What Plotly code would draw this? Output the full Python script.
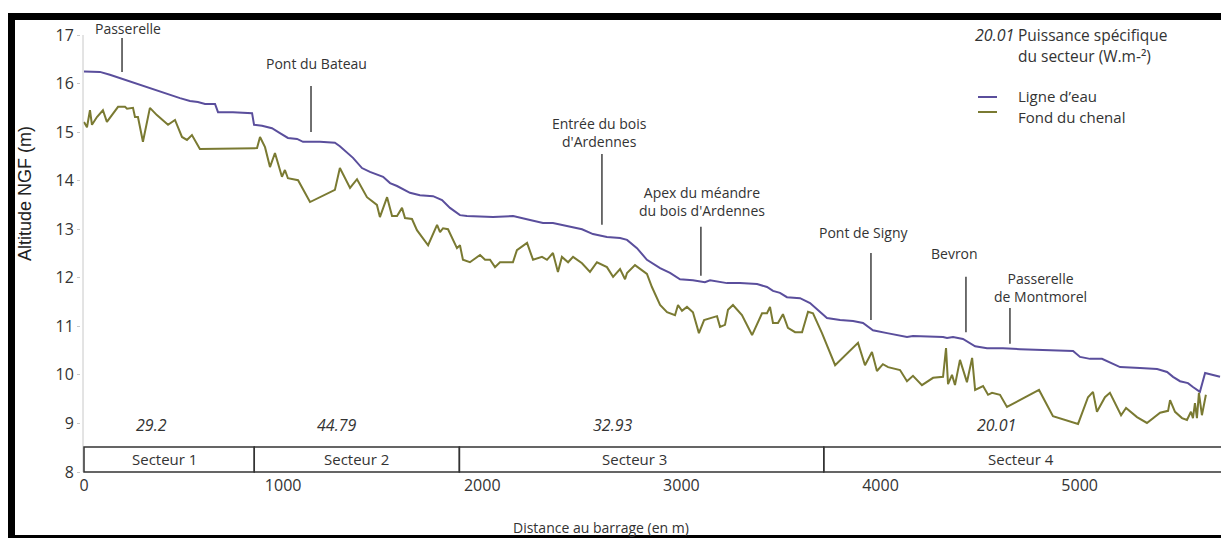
import plotly.graph_objects as go

# ---------------- data ----------------
dist_eau = [0, 80, 130, 196, 281, 331, 382, 432, 482, 532, 572, 608, 658, 673, 748, 844, 854, 894, 944, 984,
            1024, 1070, 1100, 1185, 1260, 1285, 1321, 1351, 1396, 1436, 1502, 1537, 1572, 1637, 1687, 1753, 1798, 1838, 1888, 1923,
            2054, 2155, 2240, 2305, 2355, 2425, 2501, 2556, 2626, 2692, 2727, 2777, 2827, 2893, 2943, 2993, 3058, 3118, 3144, 3229,
            3294, 3380, 3430, 3460, 3495, 3530, 3596, 3646, 3696, 3731, 3797, 3862, 3912, 3962, 4033, 4083, 4133, 4163, 4314, 4334,
            4364, 4414, 4450, 4475, 4535, 4615, 4700, 4967, 5002, 5052, 5112, 5162, 5203, 5303, 5389, 5439, 5469, 5504, 5544, 5569,
            5604, 5630, 5665, 5705]
alt_eau = [16.25, 16.24, 16.18, 16.09, 15.97, 15.91, 15.83, 15.76, 15.70, 15.64, 15.62, 15.58, 15.58, 15.41, 15.41, 15.39, 15.15, 15.13, 15.08, 14.98,
           14.88, 14.86, 14.80, 14.80, 14.78, 14.71, 14.57, 14.47, 14.26, 14.18, 14.08, 13.95, 13.89, 13.75, 13.70, 13.68, 13.60, 13.44, 13.29, 13.27,
           13.25, 13.27, 13.19, 13.13, 13.13, 13.07, 13.00, 12.90, 12.84, 12.82, 12.78, 12.61, 12.37, 12.20, 12.10, 11.97, 11.95, 11.91, 11.95, 11.89,
           11.89, 11.87, 11.81, 11.73, 11.69, 11.60, 11.58, 11.48, 11.30, 11.17, 11.13, 11.11, 11.07, 10.92, 10.86, 10.82, 10.78, 10.80, 10.78, 10.76,
           10.78, 10.74, 10.66, 10.59, 10.55, 10.55, 10.53, 10.49, 10.37, 10.33, 10.33, 10.24, 10.16, 10.14, 10.12, 10.06, 9.96, 9.87, 9.83, 9.75,
           9.65, 10.04, 10.00, 9.96]

dist_fond = [0, 15, 30, 40, 65, 95, 115, 171, 206, 216, 246, 256, 271, 296, 331, 366, 422, 457, 492, 517,
             542, 582, 869, 884, 909, 934, 959, 994, 1009, 1024, 1075, 1135, 1260, 1285, 1336, 1371, 1421, 1471, 1486, 1522,
             1547, 1572, 1597, 1612, 1647, 1672, 1728, 1773, 1788, 1803, 1828, 1873, 1888, 1903, 1938, 1989, 2014, 2039, 2064, 2089,
             2154, 2174, 2225, 2255, 2300, 2325, 2355, 2380, 2400, 2431, 2456, 2501, 2541, 2576, 2626, 2657, 2692, 2717, 2727, 2767,
             2827, 2852, 2893, 2928, 2968, 2983, 3003, 3028, 3058, 3088, 3114, 3179, 3194, 3219, 3234, 3259, 3304, 3355, 3405, 3430,
             3445, 3460, 3485, 3510, 3535, 3571, 3606, 3636, 3661, 3706, 3772, 3887, 3922, 3957, 3982, 4012, 4038, 4098, 4133, 4163,
             4208, 4264, 4314, 4329, 4339, 4359, 4374, 4399, 4434, 4460, 4475, 4515, 4540, 4560, 4600, 4635, 4796, 4866, 4992, 5042,
             5067, 5087, 5127, 5152, 5208, 5233, 5288, 5338, 5404, 5444, 5454, 5479, 5514, 5539, 5559, 5569, 5579, 5589, 5599, 5614,
             5634]
alt_fond = [15.21, 15.10, 15.45, 15.15, 15.31, 15.45, 15.21, 15.52, 15.52, 15.48, 15.50, 15.31, 15.31, 14.80, 15.50, 15.35, 15.15, 15.25, 14.90, 14.84,
            14.94, 14.65, 14.67, 14.90, 14.69, 14.28, 14.57, 14.08, 14.22, 14.05, 14.01, 13.56, 13.81, 14.26, 13.85, 14.03, 13.66, 13.50, 13.25, 13.66,
            13.27, 13.27, 13.44, 13.23, 13.21, 12.98, 12.67, 13.09, 12.94, 13.02, 13.00, 12.61, 12.67, 12.37, 12.32, 12.47, 12.37, 12.37, 12.22, 12.32,
            12.32, 12.57, 12.72, 12.37, 12.43, 12.37, 12.51, 12.12, 12.43, 12.32, 12.43, 12.30, 12.12, 12.32, 12.22, 12.02, 12.18, 11.97, 12.10, 12.26,
            12.08, 11.81, 11.44, 11.29, 11.23, 11.44, 11.32, 11.40, 11.29, 10.86, 11.13, 11.21, 10.99, 11.03, 11.34, 11.44, 11.23, 10.82, 11.27, 11.27,
            11.40, 11.07, 11.07, 11.25, 10.97, 10.88, 10.88, 11.30, 11.27, 10.86, 10.20, 10.66, 10.20, 10.47, 10.08, 10.22, 10.16, 10.10, 9.87, 9.98,
            9.79, 9.94, 9.96, 10.55, 9.81, 10.00, 9.79, 10.31, 9.85, 10.35, 9.69, 9.77, 9.59, 9.63, 9.59, 9.34, 9.69, 9.15, 8.99, 9.54,
            9.65, 9.24, 9.54, 9.63, 9.17, 9.32, 9.13, 9.01, 9.22, 9.26, 9.48, 9.24, 9.11, 9.07, 9.24, 9.11, 9.42, 9.11, 9.63, 9.17,
            9.59]

sector_names = ["Secteur 1", "Secteur 2", "Secteur 3", "Secteur 4"]
sector_bounds = [0, 855, 1885, 3715, 5720]
sector_power = [29.2, 44.79, 32.93, 20.01]

landmark_names = ["Passerelle", "Pont du Bateau", "Entrée du bois<br>d'Ardennes",
                  "Apex du méandre<br>du bois d'Ardennes", "Pont de Signy", "Bevron",
                  "Passerelle<br>de Montmorel"]
landmark_dist = [191, 1140, 2601, 3098, 3952, 4429, 4650]

x_ticks = [0, 1000, 2000, 3000, 4000, 5000]
y_ticks = [8, 9, 10, 11, 12, 13, 14, 15, 16, 17]

# ---------------- layout geometry / styles ----------------
OFF = 8                      # page offset of the figure (browser body margin)
W, H = 1229 - OFF, 541 - OFF
L, R, T, B = 81 - OFF, 4, 33 - OFF, 67
PW, PH = W - L - R, H - T - B


def pxx(p):
    """page pixel x -> paper x"""
    return (p - OFF - L) / PW


def pxy(p):
    """page pixel y -> paper y"""
    return (T + PH - (p - OFF)) / PH


x_lo = (81 - 84) / 0.19913
x_hi = (1225 - 84) / 0.19913
y_lo = 8 - 2 / 48.56
y_hi = 17 + 2 / 48.56


def vy(v):
    """data y -> paper y"""
    return (v - y_lo) / (y_hi - y_lo)


BLUE = "#5a4e9c"
OLIVE = "#7a7a32"
TXT = "#333333"
FONT = "Open Sans"

label_x = [221, 1170, 2591, 3103, 3917, 4369, 4801]
label_y = [17.14, 16.42, 15.00, 13.58, 12.94, 12.49, 11.81]
mark_top = [16.94, 15.95, 14.55, 13.05, 12.51, 12.02, 11.38]
mark_bot = [16.24, 15.00, 13.09, 12.04, 11.13, 10.88, 10.64]
sector_label_x = [402, 1366, 2767, 4705]
power_label_x = [341, 1270, 2656, 4580]

fig = go.Figure()
fig.add_trace(go.Scatter(x=dist_eau, y=alt_eau, mode="lines", name="Ligne d’eau",
                         line=dict(color=BLUE, width=2), showlegend=False))
fig.add_trace(go.Scatter(x=dist_fond, y=alt_fond, mode="lines", name="Fond du chenal",
                         line=dict(color=OLIVE, width=2), showlegend=False))

shapes = []
annotations = []

# y-axis line
shapes.append(dict(type="line", xref="x", yref="y", x0=-5, x1=-5, y0=8, y1=17,
                   line=dict(color="#c8c8c8", width=1)))

# sector boxes
box_top = 8.515
for i, name in enumerate(sector_names):
    shapes.append(dict(type="rect", xref="x", yref="y", x0=sector_bounds[i], x1=sector_bounds[i + 1],
                       y0=8, y1=box_top, line=dict(color="#333333", width=1.5)))
    annotations.append(dict(x=sector_label_x[i], y=vy((8 + box_top) / 2), xref="x", yref="paper", text=name,
                            showarrow=False, font=dict(family=FONT, size=15, color=TXT),
                            xanchor="center", yanchor="middle"))
    annotations.append(dict(x=power_label_x[i], y=vy(8.97), xref="x", yref="paper", text=f"<i>{sector_power[i]}</i>",
                            showarrow=False, font=dict(family=FONT, size=16, color=TXT),
                            xanchor="center", yanchor="middle"))

# landmarks
for i, name in enumerate(landmark_names):
    shapes.append(dict(type="line", xref="x", yref="y", x0=landmark_dist[i], x1=landmark_dist[i],
                       y0=mark_bot[i], y1=mark_top[i], line=dict(color="#404040", width=1.5)))
    annotations.append(dict(x=label_x[i], y=vy(label_y[i]), xref="x", yref="paper", text=name,
                            showarrow=False, font=dict(family=FONT, size=14, color=TXT),
                            xanchor="center", yanchor="middle", align="center"))

# legend (manual)
annotations.append(dict(x=pxx(994), y=pxy(35), xref="paper", yref="paper", text="<i>20.01</i>",
                        showarrow=False, font=dict(family=FONT, size=16, color=TXT),
                        xanchor="center", yanchor="middle"))
for ty, txt in [(35, "Puissance spécifique"), (56, "du secteur (W.m-²)")]:
    annotations.append(dict(x=pxx(1016), y=pxy(ty), xref="paper", yref="paper", text=txt,
                            showarrow=False, font=dict(family=FONT, size=15.5, color=TXT),
                            xanchor="left", yanchor="middle"))
for ty, ly, col, txt in [(96, 97, BLUE, "Ligne d’eau"), (117, 112, OLIVE, "Fond du chenal")]:
    shapes.append(dict(type="line", xref="paper", yref="paper", x0=pxx(978), x1=pxx(997),
                       y0=pxy(ly), y1=pxy(ly), line=dict(color=col, width=2)))
    annotations.append(dict(x=pxx(1016), y=pxy(ty), xref="paper", yref="paper", text=txt,
                            showarrow=False, font=dict(family=FONT, size=15, color=TXT),
                            xanchor="left", yanchor="middle"))

# axis titles
annotations.append(dict(x=pxx(25), y=pxy(194), xref="paper", yref="paper", text="Altitude NGF (m)",
                        textangle=-90, showarrow=False,
                        font=dict(family="Liberation Sans, Arial", size=18, color="#222222"),
                        xanchor="center", yanchor="middle"))
annotations.append(dict(x=pxx(601), y=pxy(527), xref="paper", yref="paper", text="Distance au barrage (en m)",
                        showarrow=False, font=dict(family=FONT, size=14, color=TXT),
                        xanchor="center", yanchor="middle"))

# black frame (page pixels)
for (a, b, c, d) in [(8, 13, 1229, 20), (8, 13, 15, 538), (1224, 13, 1229, 538), (8, 535, 1229, 538)]:
    shapes.append(dict(type="rect", xref="paper", yref="paper", x0=pxx(a), x1=pxx(c), y0=pxy(d), y1=pxy(b),
                       fillcolor="black", line=dict(width=0), layer="above"))

fig.update_layout(
    width=W, height=H,
    margin=dict(l=L, r=R, t=T, b=B, pad=0),
    paper_bgcolor="white", plot_bgcolor="white",
    showlegend=False,
    shapes=shapes, annotations=annotations,
    xaxis=dict(range=[x_lo, x_hi], tickvals=x_ticks, ticktext=[str(v) for v in x_ticks],
               showgrid=False, zeroline=False, showline=False, ticks="",
               tickfont=dict(family=FONT, size=16, color="#333333")),
    yaxis=dict(range=[y_lo, y_hi], tickvals=y_ticks, ticktext=[str(v) for v in y_ticks],
               showgrid=False, zeroline=False, showline=False, ticks="outside", ticklen=3,
               tickcolor="#c8c8c8", tickfont=dict(family=FONT, size=16, color="#333333")),
)

fig.write_html("out.html")
